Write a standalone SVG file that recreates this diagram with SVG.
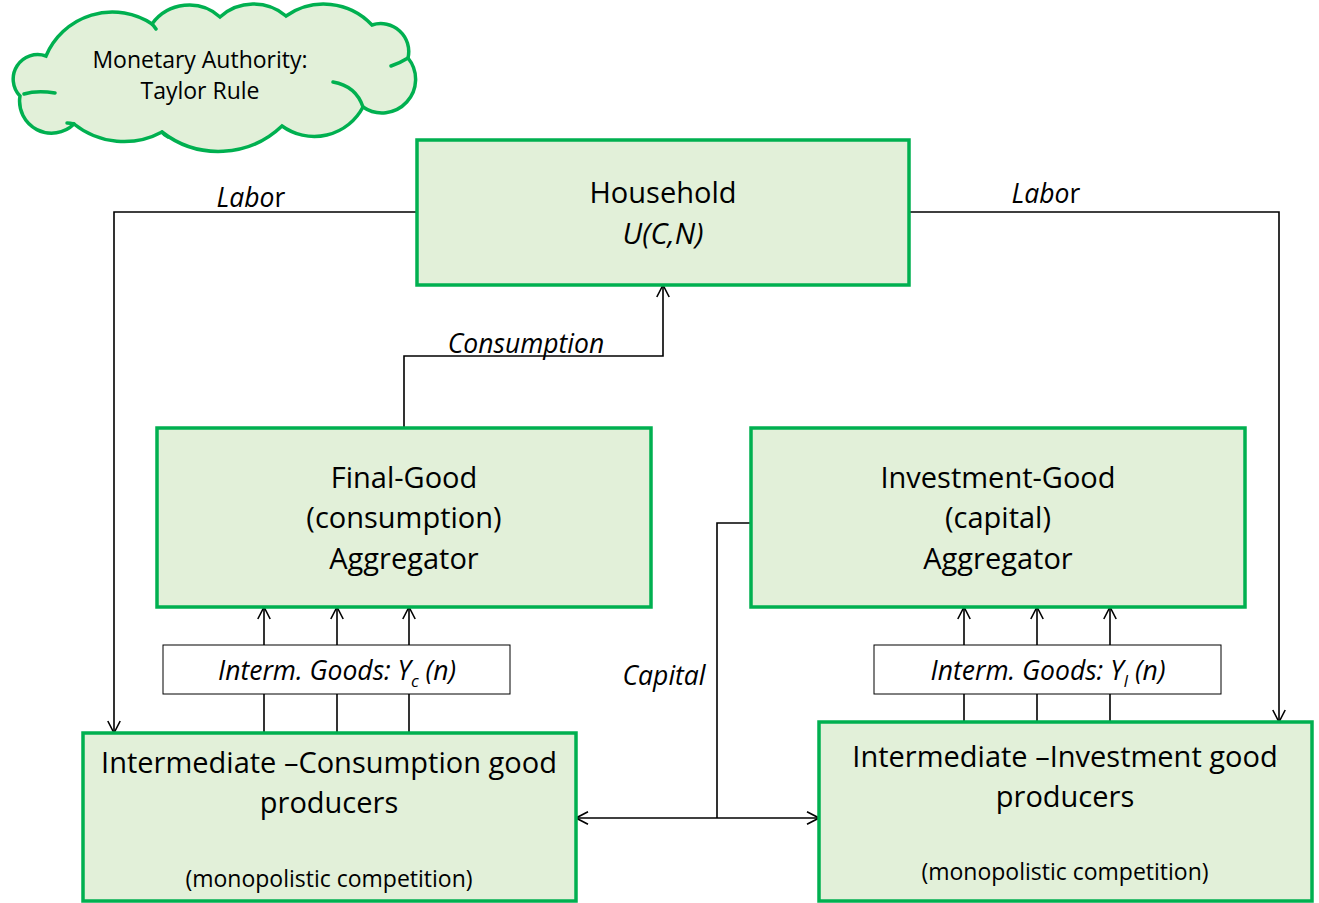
<svg xmlns="http://www.w3.org/2000/svg" width="1319" height="903" viewBox="0 0 1319 903">
<style>
.box{fill:#E2F0D9;stroke:#00B050;stroke-width:3.5}
.curl{fill:none;stroke:#00B050;stroke-width:3.5;stroke-linecap:round}
.ib{fill:#ffffff;stroke:#000;stroke-width:1}
.ln{fill:none;stroke:#000;stroke-width:1.6}
.t{font-family:"Open Sans",Lato,sans-serif;fill:#000;text-anchor:middle;font-variant-ligatures:none}
.big{font-size:29px}
.sm{font-size:23px}
.lab{font-size:26.5px;font-style:italic}
.it{font-style:italic}
</style>
<defs>
<marker id="arr" viewBox="0 0 14 14" refX="13" refY="7" markerWidth="14" markerHeight="14" markerUnits="userSpaceOnUse" orient="auto-start-reverse">
<path d="M1,0.8 L13,7 L1,13.2" fill="none" stroke="#000" stroke-width="1.6"/>
</marker>
</defs>
<rect width="1319" height="903" fill="#ffffff"/>
<g id="cloud">
<path class="box" d="M46,56 A72 72 0 0 1 152,24 A46 46 0 0 1 220,17 A50 50 0 0 1 286,16 A66 66 0 0 1 372,25 A28 28 0 0 1 408,58 A33.6 33.6 0 0 1 363,107 A55 55 0 0 1 282,126 A92 92 0 0 1 162,132 A80 80 0 0 1 74,124 A32 32 0 0 1 20,96 A24.5 24.5 0 0 1 46,56 Z"/>
<path class="curl" d="M152,24 Q154,26 156,29 M408,58 Q400,63 391,66 M333,82 Q356,86 363,107 M162,132 Q164,135 168,137 M74,124 Q70,123 67,123 M24,94 Q37,90 55,93"/>
<text class="t" x="200" y="68" font-size="23">Monetary Authority:</text>
<text class="t" x="200" y="99" font-size="23">Taylor Rule</text>
</g>
<g id="connectors">
<polyline class="ln" points="417,212 114,212 114,733" marker-end="url(#arr)"/>
<polyline class="ln" points="909,212 1279,212 1279,722" marker-end="url(#arr)"/>
<polyline class="ln" points="404,428 404,356 663,356 663,285" marker-end="url(#arr)"/>
<polyline class="ln" points="751,523 717,523 717,818"/>
<line class="ln" x1="576" y1="818" x2="819" y2="818" marker-start="url(#arr)" marker-end="url(#arr)"/>
<line class="ln" x1="264" y1="733" x2="264" y2="607" marker-end="url(#arr)"/>
<line class="ln" x1="337" y1="733" x2="337" y2="607" marker-end="url(#arr)"/>
<line class="ln" x1="409" y1="733" x2="409" y2="607" marker-end="url(#arr)"/>
<line class="ln" x1="964" y1="722" x2="964" y2="607" marker-end="url(#arr)"/>
<line class="ln" x1="1037" y1="722" x2="1037" y2="607" marker-end="url(#arr)"/>
<line class="ln" x1="1110" y1="722" x2="1110" y2="607" marker-end="url(#arr)"/>
<text class="t lab" x="251" y="207"><tspan class="it">Labo</tspan><tspan font-style="normal">r</tspan></text>
<text class="t lab" x="1046" y="203"><tspan class="it">Labo</tspan><tspan font-style="normal">r</tspan></text>
<text class="t lab" x="526" y="353">Consumption</text>
<text class="t lab" x="664" y="685">Capital</text>
</g>
<g id="household">
<rect class="box" x="417" y="140" width="492" height="145"/>
<text class="t big" x="663" y="203">Household</text>
<text class="t big it" x="663" y="244">U(C,N)</text>
</g>
<g id="final-good">
<rect class="box" x="157" y="428" width="494" height="179"/>
<text class="t big" x="404" y="488">Final-Good</text>
<text class="t big" x="404" y="528">(consumption)</text>
<text class="t big" x="404" y="569">Aggregator</text>
</g>
<g id="investment-good">
<rect class="box" x="751" y="428" width="494" height="179"/>
<text class="t big" x="998" y="488">Investment-Good</text>
<text class="t big" x="998" y="528">(capital)</text>
<text class="t big" x="998" y="569">Aggregator</text>
</g>
<g id="interm-c">
<rect class="ib" x="163" y="645" width="347" height="49"/>
<text class="t lab" x="337" y="680">Interm. Goods: Y<tspan font-size="17" dy="7">c</tspan><tspan dy="-7"> (n)</tspan></text>
</g>
<g id="interm-i">
<rect class="ib" x="874" y="645" width="347" height="49"/>
<text class="t lab" x="1048" y="680">Interm. Goods: Y<tspan font-size="17" dy="7">I</tspan><tspan dy="-7"> (n)</tspan></text>
</g>
<g id="interm-consumption">
<rect class="box" x="83" y="733" width="493" height="168"/>
<text class="t big" x="329" y="773">Intermediate –Consumption good</text>
<text class="t big" x="329" y="813">producers</text>
<text class="t sm" x="329" y="887">(monopolistic competition)</text>
</g>
<g id="interm-investment">
<rect class="box" x="819" y="722" width="493" height="179"/>
<text class="t big" x="1065" y="767">Intermediate –Investment good</text>
<text class="t big" x="1065" y="807">producers</text>
<text class="t sm" x="1065" y="880">(monopolistic competition)</text>
</g>
</svg>
